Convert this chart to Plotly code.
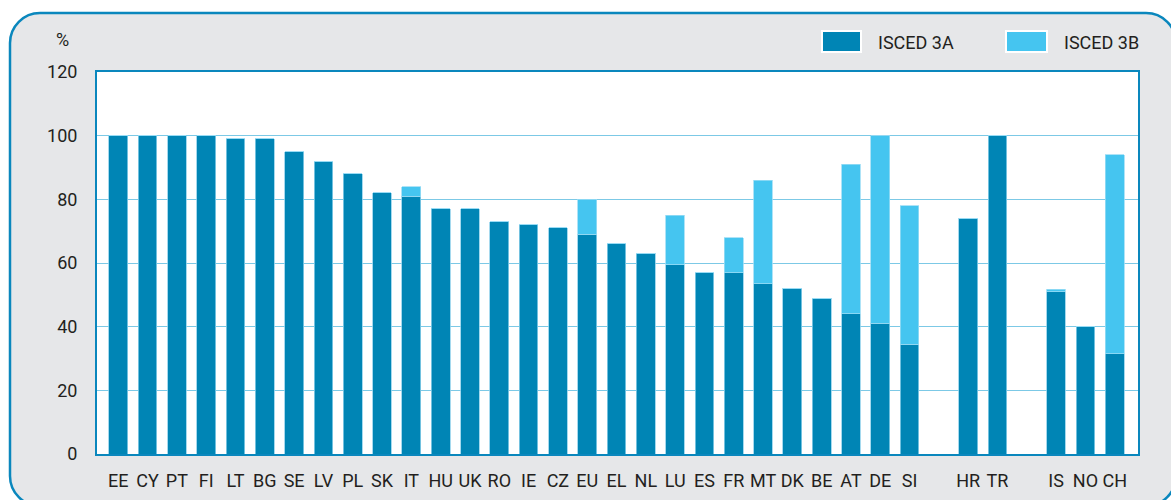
import plotly.graph_objects as go

# ---- data ----
countries = ["EE", "CY", "PT", "FI", "LT", "BG", "SE", "LV", "PL", "SK", "IT", "HU", "UK", "RO",
             "IE", "CZ", "EU", "EL", "NL", "LU", "ES", "FR", "MT", "DK", "BE", "AT", "DE", "SI",
             "", "HR", "TR", "", "IS", "NO", "CH"]
isced_3a = [100, 100, 100, 100, 99, 99, 95, 92, 88, 82, 81, 77, 77, 73,
            72, 71, 69, 66, 63, 59.5, 57, 57, 53.5, 52, 49, 44, 41, 34.5,
            None, 74, 100, None, 51, 40, 31.5]
isced_3b = [0, 0, 0, 0, 0, 0, 0, 0, 0, 0, 3, 0, 0, 0,
            0, 0, 11, 0, 0, 15.5, 0, 11, 32.5, 0, 0, 47, 59, 43.5,
            None, 0, 0, None, 0.7, 0, 62.5]
y_ticks = [0, 20, 40, 60, 80, 100, 120]
series_names = ["ISCED 3A", "ISCED 3B"]

# ---- style ----
C3A = "#0085b5"
C3B = "#45c5f0"
FRAME = "#0a87bd"
GRID = "#7cc9e6"
BG = "#e6e7e9"
TXT = "#231f20"
FONT = "Roboto, Liberation Sans Narrow, Arial Narrow, sans-serif"
FS = 18

W, H = 1171, 500
PL_, PT_, PR_, PB_ = 97, 72, 1138, 454   # plot area in px
L, T, R, B = PL_, PT_, W - PR_, H - PB_
PW, PH = PR_ - PL_, PB_ - PT_

def px(x):
    return (x - PL_) / PW

def py(y):
    return (PB_ - y) / PH

positions = list(range(len(countries)))
tickvals = [p for p, c in zip(positions, countries) if c]
ticktext = [c for c in countries if c]

fig = go.Figure()
fig.add_trace(go.Bar(x=positions, y=isced_3a, name=series_names[0], marker_color=C3A,
                     marker_line=dict(color="#8fd0ea", width=0.8), showlegend=False,
                     hoverinfo="skip"))
fig.add_trace(go.Bar(x=positions, y=isced_3b, name=series_names[1], marker_color=C3B,
                     marker_line=dict(color="#9adcf5", width=0.8), showlegend=False,
                     hoverinfo="skip"))

# rounded panel background
x0, y0, x1, y1 = 10, 13, 1176, 506
r = 30
k = 0.552 * r
pts = [
    f"M {px(x0 + r)},{py(y0)}",
    f"L {px(x1 - r)},{py(y0)}",
    f"C {px(x1 - r + k)},{py(y0)} {px(x1)},{py(y0 + r - k)} {px(x1)},{py(y0 + r)}",
    f"L {px(x1)},{py(y1 - r)}",
    f"C {px(x1)},{py(y1 - r + k)} {px(x1 - r + k)},{py(y1)} {px(x1 - r)},{py(y1)}",
    f"L {px(x0 + r)},{py(y1)}",
    f"C {px(x0 + r - k)},{py(y1)} {px(x0)},{py(y1 - r + k)} {px(x0)},{py(y1 - r)}",
    f"L {px(x0)},{py(y0 + r)}",
    f"C {px(x0)},{py(y0 + r - k)} {px(x0 + r - k)},{py(y0)} {px(x0 + r)},{py(y0)}",
    "Z",
]
shapes = [
    dict(type="path", xref="paper", yref="paper", path=" ".join(pts),
         fillcolor=BG, line=dict(color=FRAME, width=2.5), layer="below"),
    dict(type="rect", xref="paper", yref="paper", x0=0, x1=1, y0=0, y1=1,
         fillcolor="white", line=dict(width=0), layer="below"),
]

# manual legend
annotations = [
    dict(text="%", x=px(54), y=py(40), xref="paper", yref="paper", xanchor="left",
         yanchor="middle", showarrow=False, font=dict(family=FONT, size=FS, color=TXT)),
]
legend_items = [(series_names[0], C3A, 822, 861, 876), (series_names[1], C3B, 1006, 1047, 1062)]
for name, col, sx0, sx1, tx in legend_items:
    shapes.append(dict(type="rect", xref="paper", yref="paper", x0=px(sx0), x1=px(sx1),
                       y0=py(52), y1=py(31), fillcolor=col, line=dict(color="white", width=2)))
    annotations.append(dict(text=name, x=px(tx), y=py(42), xref="paper", yref="paper",
                            xanchor="left", yanchor="middle", showarrow=False,
                            font=dict(family=FONT, size=FS, color=TXT)))

fig.update_layout(
    template="none",
    width=W, height=H, autosize=False,
    margin=dict(l=L, r=R, t=T, b=B, pad=0, autoexpand=False),
    paper_bgcolor="white", plot_bgcolor="white",
    barmode="stack", bargap=0.36,
    font=dict(family=FONT, size=FS, color=TXT),
    shapes=shapes, annotations=annotations,
    xaxis=dict(range=[-0.727, 34.795], tickvals=tickvals, ticktext=ticktext, automargin=False,
               showgrid=False, showline=True, mirror=True, linecolor=FRAME, linewidth=2,
               ticks="", ticklabelstandoff=9, tickfont=dict(size=FS), zeroline=False),
    yaxis=dict(range=[0, 120], tickvals=y_ticks, showgrid=True, gridcolor=GRID, gridwidth=1.3,
               automargin=False,
               showline=True, mirror=True, linecolor=FRAME, linewidth=2, ticks="",
               ticklabelstandoff=14, tickfont=dict(size=FS), zeroline=False),
)

fig.write_html("out.html", config={"displayModeBar": False},
               post_script="document.body.style.margin='0';document.body.style.overflow='hidden';")
